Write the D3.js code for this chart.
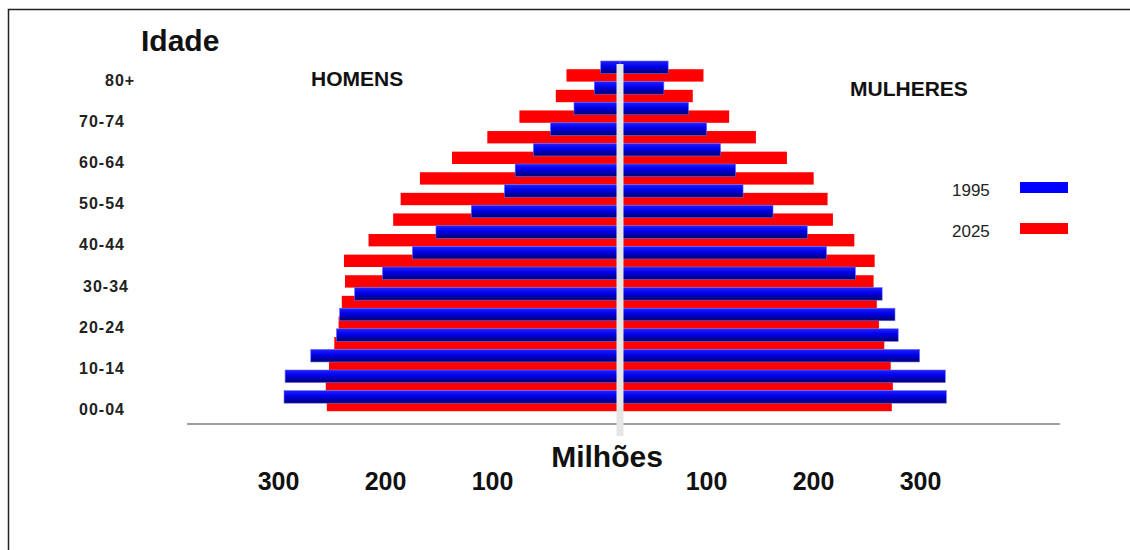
<!DOCTYPE html>
<html>
<head>
  <title>Pirâmide etária 1995 / 2025</title>
  <script src="https://d3js.org/d3.v7.min.js"></script>
  <style>
    body { margin: 0; background: #fff; font-family: Arial, "Liberation Sans", sans-serif; }
    .lbl { font-weight: bold; fill: #111; }
    .age { font-size: 16px; font-weight: bold; fill: #222; letter-spacing: 1px; }
    .tick text { font-size: 25px; font-weight: bold; fill: #111; font-family: Arial, "Liberation Sans", sans-serif; }
    .legend text { font-size: 17px; fill: #222; }
  </style>
</head>
<body>
  <div id="chart"></div>
  <script>
    // age groups, youngest first
    const ages = ["00-04", "05-09", "10-14", "15-19", "20-24", "25-29", "30-34", "35-39",
                  "40-44", "45-49", "50-54", "55-59", "60-64", "65-69", "70-74", "75-79", "80+"];

    // milhões
    const homens1995 = [314, 313, 289, 265, 262, 248, 222, 194, 172, 139, 108, 98, 81, 65, 43, 24, 18];
    const homens2025 = [274, 275, 272, 267, 263, 260, 257, 258, 235, 212, 205, 187, 157, 124, 94, 60, 50];
    const mulheres1995 = [305, 304, 280, 260, 257, 245, 220, 193, 175, 143, 115, 108, 94, 81, 64, 41, 45];
    const mulheres2025 = [254, 255, 253, 247, 242, 240, 237, 238, 219, 199, 194, 181, 156, 127, 102, 68, 78];

    const tickVals = [-300, -200, -100, 100, 200, 300];
    const years = ["1995", "2025"];

    const W = 1130, H = 550;
    const cx = 620, k = 1.07;

    const svg = d3.select("#chart").append("svg")
      .attr("width", W).attr("height", H);

    const defs = svg.append("defs");
    const grad = defs.append("linearGradient")
      .attr("id", "blueGrad").attr("x1", 0).attr("y1", 0).attr("x2", 0).attr("y2", 1);
    grad.append("stop").attr("offset", "0%").attr("stop-color", "#2020ff");
    grad.append("stop").attr("offset", "45%").attr("stop-color", "#0000e8");
    grad.append("stop").attr("offset", "100%").attr("stop-color", "#00006a");

    // frame
    svg.append("rect")
      .attr("x", 8.5).attr("y", 9.5).attr("width", W).attr("height", H)
      .attr("fill", "none").attr("stroke", "#222").attr("stroke-width", 1.5);

    const x = d3.scaleLinear().domain([-350, 350]).range([cx - 350 * k, cx + 350 * k]);
    const y = d3.scaleBand().domain(ages.slice().reverse()).range([61, 411.2]).padding(0);
    const bw = y.bandwidth();

    const rows = ages.map((a, i) => ({
      age: a, h95: homens1995[i], h25: homens2025[i], m95: mulheres1995[i], m25: mulheres2025[i]
    }));

    // 2025 bars (underneath)
    const red = svg.append("g").attr("fill", "#ff0000");
    red.selectAll(".hl").data(rows).join("rect")
      .attr("x", d => x(-d.h25)).attr("width", d => x(0) - x(-d.h25))
      .attr("y", d => y(d.age) + bw * 0.4).attr("height", bw * 0.6);
    red.selectAll(".ml").data(rows).join("rect")
      .attr("x", x(0)).attr("width", d => x(d.m25) - x(0))
      .attr("y", d => y(d.age) + bw * 0.4).attr("height", bw * 0.6);

    // 1995 bars (on top)
    const blue = svg.append("g").attr("fill", "url(#blueGrad)")
      .attr("stroke", "#6a6aff").attr("stroke-width", 0.6);
    blue.selectAll(".hb").data(rows).join("rect")
      .attr("x", d => x(-d.h95)).attr("width", d => x(0) - x(-d.h95))
      .attr("y", d => y(d.age)).attr("height", bw * 0.61);
    blue.selectAll(".mb").data(rows).join("rect")
      .attr("x", x(0)).attr("width", d => x(d.m95) - x(0))
      .attr("y", d => y(d.age)).attr("height", bw * 0.61);

    // baseline
    svg.append("line")
      .attr("x1", 187).attr("x2", 1060).attr("y1", 424).attr("y2", 424)
      .attr("stroke", "#a0a0a0").attr("stroke-width", 2);

    // centre divider
    svg.append("rect")
      .attr("x", cx - 3.5).attr("y", 64).attr("width", 7).attr("height", 372)
      .attr("fill", "#e6e6e6");

    // x axis (labels sit a little left of the bar scale, like the original)
    svg.append("g")
      .attr("transform", "translate(-21,469)")
      .call(d3.axisBottom(x).tickValues(tickVals).tickFormat(d => Math.abs(d)).tickSize(0))
      .call(g => g.select(".domain").remove());

    // age labels, every other group
    const ageShift = { "80+": 26, "30-34": 4 };
    svg.selectAll(".age").data(ages.filter((a, i) => i % 2 === 0)).join("text")
      .attr("class", "age")
      .attr("x", d => 79 + (ageShift[d] || 0))
      .attr("y", d => y(d) + bw + 4)
      .text(d => d);

    // titles
    svg.append("text").attr("class", "lbl").attr("x", 141).attr("y", 51)
      .style("font-size", "30px").text("Idade");
    svg.append("text").attr("class", "lbl").attr("x", 311).attr("y", 86)
      .style("font-size", "21px").text("HOMENS");
    svg.append("text").attr("class", "lbl").attr("x", 850).attr("y", 96)
      .style("font-size", "21px").text("MULHERES");
    svg.append("text").attr("class", "lbl").attr("x", 607).attr("y", 467)
      .attr("text-anchor", "middle").style("font-size", "30px").text("Milhões");

    // legend
    const legend = svg.append("g").attr("class", "legend");
    const lg = legend.selectAll("g").data(years).join("g")
      .attr("transform", (d, i) => `translate(0,${i * 41})`);
    lg.append("text").attr("x", 952).attr("y", 196).text(d => d);
    lg.append("rect").attr("x", 1020).attr("y", 182).attr("width", 48).attr("height", 11)
      .attr("fill", d => d === "1995" ? "#0000ff" : "#ff0000");
  </script>
</body>
</html>
